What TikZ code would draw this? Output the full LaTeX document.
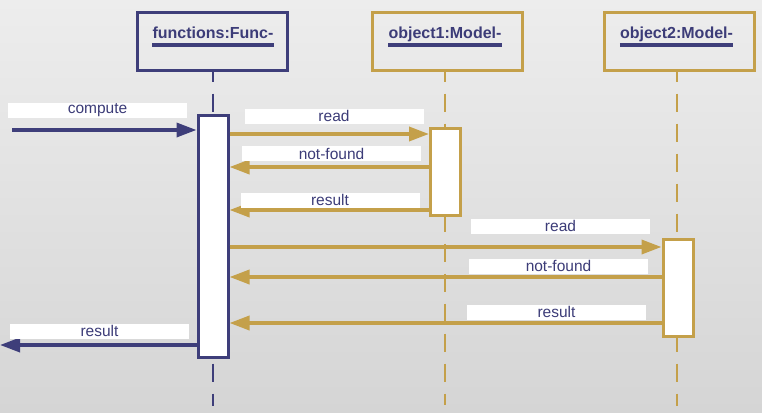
\documentclass[tikz,border=0pt]{standalone}
\usepackage{fontspec}
\setmainfont{Liberation Sans}
\usetikzlibrary{arrows.meta}
\definecolor{navy}{HTML}{3E3E7A}
\definecolor{gold}{HTML}{C4A04A}
\definecolor{txt}{HTML}{3C3C78}
\definecolor{bgtop}{HTML}{EDEDED}
\definecolor{bgbot}{HTML}{D5D5D5}
\tikzset{
  hdr/.style={draw=#1, line width=3pt, fill=none, minimum width=150pt, minimum height=57pt, inner sep=0pt},
  hdrtext/.style={text=txt, font=\fontsize{16}{18}\selectfont\bfseries, inner sep=0pt, anchor=base},
  uline/.style={navy, line width=3.5pt},
  life/.style={draw=#1, line width=1.6pt, dash pattern=on 18pt off 12pt, dash phase=8pt},
  act/.style={draw=#1, fill=white, line width=3pt, minimum width=30pt, inner sep=0pt},
  msg/.style={draw=#1, line width=3.5pt, -{Triangle[length=20pt,width=14pt]}, #1},
  lbl/.style={fill=white, minimum width=179pt, minimum height=15pt, inner sep=0pt, text=txt, font=\fontsize{15.5}{17}\selectfont}
}
\begin{document}
\begin{tikzpicture}[x=1pt,y=-1pt]
\useasboundingbox (0,0) rectangle (762,412);
\shade[top color=bgtop, bottom color=bgbot] (0,0) rectangle (762,412);

% headers
\node[hdr=navy] (hf) at (212.5,41.5) {};
\node[hdr=gold] (h1) at (447,41.5) {};
\node[hdr=gold] (h2) at (679.5,41.5) {};
\node[hdrtext] (tf) at (213,39) {functions:Func-};
\node[hdrtext] (t1) at (445,39) {object1:Model-};
\node[hdrtext] (t2) at (676.5,39) {object2:Model-};
\draw[uline] ([yshift=-6pt]tf.base west) -- ([yshift=-6pt]tf.base east);
\draw[uline] ([yshift=-6pt]t1.base west) -- ([yshift=-6pt]t1.base east);
\draw[uline] ([yshift=-6pt]t2.base west) -- ([yshift=-6pt]t2.base east);

% lifeline ends
\coordinate (ef) at (213,406);
\coordinate (e1) at (445,405);
\coordinate (e2) at (677,406);
\draw[life=navy] (tf |- hf.south) -- (ef);
\draw[life=gold] (t1 |- h1.south) -- (e1);
\draw[life=gold] (e2 |- h2.south) -- (e2);

% activations
\node[act=navy, minimum height=242pt] (af) at (213,236.5) {};
\node[act=gold, minimum height=87pt] (a1) at (445.5,171.5) {};
\node[act=gold, minimum height=97pt] (a2) at (678,288) {};

% message rows
\coordinate (src) at (12,130);
\coordinate (dst) at (0,345);
\coordinate (y1) at (0,134);
\coordinate (y2) at (0,167);
\coordinate (y3) at (0,210);
\coordinate (y4) at (0,247);
\coordinate (y5) at (0,277);
\coordinate (y6) at (0,323);

\draw[msg=navy] (src) -- (af.west |- src);
\draw[msg=gold] (af.east |- y1) -- (a1.west |- y1);
\draw[msg=gold] (a1.west |- y2) -- (af.east |- y2);
\draw[msg=gold] (a1.west |- y3) -- (af.east |- y3);
\draw[msg=gold] (af.east |- y4) -- (a2.west |- y4);
\draw[msg=gold] (a2.west |- y5) -- (af.east |- y5);
\draw[msg=gold] (a2.west |- y6) -- (af.east |- y6);
\draw[msg=navy] (af.west |- dst) -- (dst);

% labels
\node[lbl] (l0) at (97.5,110.5) {compute};
\node[lbl] (l1) at (334,116) {read};
\node[lbl] (l2) at (331.5,153.5) {not-found};
\node[lbl] (l3) at (330,200) {result};
\node[lbl] (l4) at (560.5,226) {read};
\node[lbl] (l5) at (558.5,266) {not-found};
\node[lbl] (l6) at (556.5,312) {result};
\node[lbl] (l7) at (99.5,331) {result};
\end{tikzpicture}
\end{document}
